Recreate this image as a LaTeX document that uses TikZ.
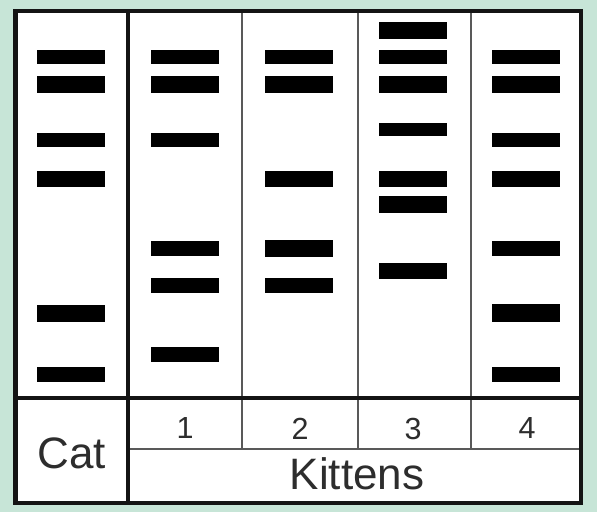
\documentclass[tikz,border=0pt]{standalone}
\usepackage{fontspec}
\setmainfont{Liberation Sans}
\definecolor{bgmint}{RGB}{199,229,215}
\definecolor{txtgray}{RGB}{45,45,45}
\tikzset{
  thickline/.style={line width=4.5pt, draw=black!92},
  thinline/.style={line width=2.4pt, draw=black!65},
  band/.style={fill=black},
  biglbl/.style={inner sep=0pt, text=txtgray, font=\fontsize{44}{47}\selectfont},
  numlbl/.style={inner sep=0pt, text=txtgray, font=\fontsize{30.5}{33}\selectfont}
}
\begin{document}
\begin{tikzpicture}[x=1pt,y=-1pt]
\fill[bgmint] (0,0) rectangle (597,512);
\useasboundingbox (0,0) rectangle (597,512);
\fill[white] (15.5,11) rectangle (581,503);
% thin dividers
\draw[thinline] (242,11) -- (242,449);
\draw[thinline] (358,11) -- (358,449);
\draw[thinline] (471,11) -- (471,449);
\draw[thinline] (128,449) -- (581,449);
% thick lines
\draw[thickline] (15.5,398) -- (581,398);
\draw[thickline] (128,11) -- (128,503);
\draw[thickline] (15.5,11) rectangle (581,503);
% bands
\foreach \cx/\bands in {
  71/{50/64,76/93,133/147,171/187,305/322,367/382},
  185/{50/64,76/93,133/147,241/256,278/293,347/362},
  299/{50/64,76/93,171/187,240/257,278/293},
  412.5/{22/39,50/64,76/93,123/136,171/187,196/213,263/279},
  526/{50/64,76/93,133/147,171/187,241/256,304/322,367/382}}{
  \foreach \ya/\yb in \bands {
    \fill[band] (\cx-34,\ya) rectangle (\cx+34,\yb);
  }
}
% labels
\node[biglbl] (cat) at (71.5,453) {Cat};
\node[biglbl] (kittens) at (357,473.5) {Kittens};
\node[numlbl] (n1) at (185,428.5) {1};
\node[numlbl] (n2) at (300,428.5) {2};
\node[numlbl] (n3) at (413,428.5) {3};
\node[numlbl] (n4) at (527,428.5) {4};
\end{tikzpicture}
\end{document}
